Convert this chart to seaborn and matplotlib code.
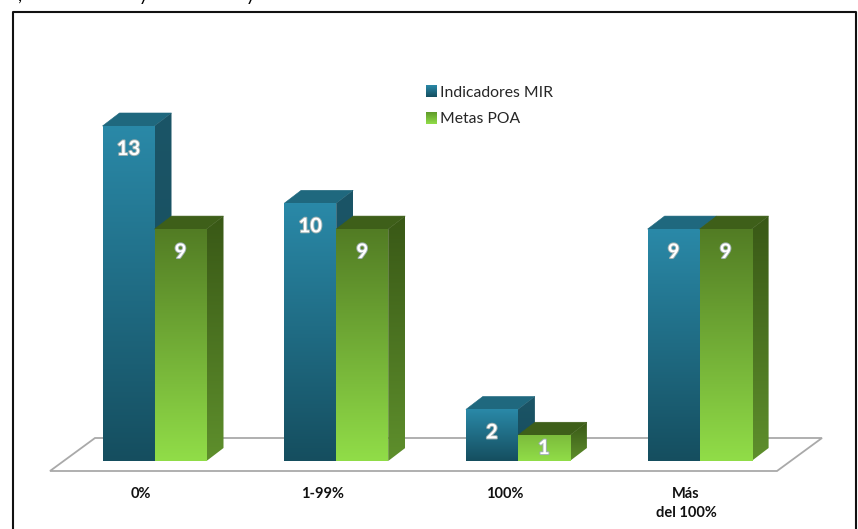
import numpy as np
import pandas as pd
import seaborn as sns
import matplotlib.pyplot as plt
import matplotlib.patheffects as pe
from matplotlib.colors import LinearSegmentedColormap, to_rgb
from matplotlib.lines import Line2D
from matplotlib.patches import Polygon
from matplotlib.transforms import ScaledTranslation

# Chart values
categories = ['0%', '1-99%', '100%', 'Más\ndel 100%']
indicadores_mir = [13, 10, 2, 9]
metas_poa = [9, 9, 1, 9]
series_names = ['Indicadores MIR', 'Metas POA']

# Colours (front top, front bottom, side top, side bottom, top face)
mir_colors = ['#2a89a8', '#154e5f', '#1b5567', '#174c5c', '#1f687e']
poa_colors = ['#527c24', '#91dd48', '#395816', '#5e8f2c', '#3e5f19']
poa_short_top = '#7cbc3c'

W, H = 858, 529
BASE_Y = 461          # pixel row of value 0
PX_PER_UNIT = 25.77   # pixels for one unit of value
BAND = 181.7          # pixels for one category
DEPTH_X, DEPTH_Y = 17, 13

sns.set_theme(style='white')
plt.rcParams['font.family'] = ['Lato', 'DejaVu Sans']

fig = plt.figure(figsize=(W / 100, H / 100), dpi=100)
left = 154.5 - BAND / 2
top = 14
ax = fig.add_axes([left / W, 1 - BASE_Y / H, 4 * BAND / W, (BASE_Y - top) / H])

df = pd.DataFrame({
    'categoria': categories * 2,
    'serie': [series_names[0]] * 4 + [series_names[1]] * 4,
    'valor': indicadores_mir + metas_poa,
})
sns.barplot(data=df, x='categoria', y='valor', hue='serie', width=104 / BAND, gap=0,
            palette=[mir_colors[0], poa_colors[1]], saturation=1, ax=ax, zorder=5)

ax.set_xlim(-0.5, 3.5)
ax.set_ylim(0, (BASE_Y - top) / PX_PER_UNIT)
ax.set_xlabel('')
ax.set_ylabel('')
ax.set_yticks([])
sns.despine(ax=ax, left=True, bottom=True)
ax.patch.set_alpha(0)

dx = DEPTH_X / BAND
dy = DEPTH_Y / PX_PER_UNIT


def to_data(px, py):
    return (px - left) / BAND - 0.5, (BASE_Y - py) / PX_PER_UNIT


def gradient(c1, c2):
    return LinearSegmentedColormap.from_list('g', [to_rgb(c1), to_rgb(c2)])


# floor of the chart
floor = [to_data(50, 471), to_data(777, 471), to_data(822, 438), to_data(95, 438)]
ax.add_patch(Polygon(floor, closed=True, facecolor='white', edgecolor='#a9a9a9',
                     linewidth=1.3, zorder=1, clip_on=False))

ramp = np.linspace(0, 1, 256).reshape(-1, 1)
order = 2
for container, cols, name in zip(ax.containers, [mir_colors, poa_colors], series_names):
    for bar in container:
        x0 = bar.get_x()
        x1 = x0 + bar.get_width()
        h = bar.get_height()
        front_top = cols[0]
        side_top = cols[2]
        if cols is poa_colors and h < 2:
            front_top = poa_short_top
        # top face
        ax.add_patch(Polygon([(x0, h), (x1, h), (x1 + dx, h + dy), (x0 + dx, h + dy)],
                             closed=True, facecolor=cols[4], edgecolor=cols[4],
                             linewidth=0.4, zorder=order, clip_on=False))
        # side face with a gradient
        side = Polygon([(x1, 0), (x1 + dx, dy), (x1 + dx, h + dy), (x1, h)], closed=True,
                       facecolor='none', edgecolor='none', zorder=order,
                       transform=ax.transData)
        ax.add_patch(side)
        im = ax.imshow(ramp, cmap=gradient(side_top, cols[3]), aspect='auto', zorder=order,
                       extent=(x1, x1 + dx, 0, h + dy), clip_on=True)
        im.set_clip_path(side)
        # front face with a gradient
        bar.set_zorder(order + 0.5)
        bar.set_edgecolor('none')
        front = ax.imshow(ramp, cmap=gradient(front_top, cols[1]), aspect='auto',
                          zorder=order + 0.6, extent=(x0, x1, 0, h))
        front.set_clip_path(bar)
        order += 1

        # value label
        off = min(23, h * PX_PER_UNIT / 2)
        ax.annotate(f'{h:.0f}', (x0 + (x1 - x0) / 2, h), xytext=(0, -off * 0.72),
                    textcoords='offset points', ha='center', va='center', color='white',
                    fontsize=14.5, fontweight='bold', zorder=60,
                    path_effects=[pe.withStroke(linewidth=1.4, foreground='#9fb0b0')])

ax.set_xlim(-0.5, 3.5)
ax.set_ylim(0, (BASE_Y - top) / PX_PER_UNIT)

# category labels sit a little left of the bars
ax.tick_params(axis='x', length=0, pad=19, labelsize=10.5)
shift = ScaledTranslation(-13.5 / 72 * 0.72, 0, fig.dpi_scale_trans)
for lab in ax.get_xticklabels():
    lab.set_fontweight('bold')
    lab.set_color('#111111')
    lab.set_linespacing(1.4)
    lab.set_transform(lab.get_transform() + shift)

# legend
leg = ax.legend(loc='upper left', bbox_to_anchor=(426 / W, 1 - 86 / H),
                bbox_transform=fig.transFigure, frameon=False, fontsize=11.3,
                handlelength=0.66, handleheight=0.72, handletextpad=0.22, labelspacing=0.78,
                borderpad=0, borderaxespad=0)
for txt in leg.get_texts():
    txt.set_color('#262626')
fig.canvas.draw()
inv = ax.transData.inverted()
for handle, cols in zip(leg.legend_handles, [mir_colors, poa_colors]):
    box = handle.get_window_extent().transformed(inv)
    ax.imshow(ramp, cmap=gradient(cols[0] if cols is mir_colors else '#5f9a2a', cols[1]),
              aspect='auto', zorder=70, extent=(box.x0, box.x1, box.y0, box.y1))
ax.set_xlim(-0.5, 3.5)
ax.set_ylim(0, (BASE_Y - top) / PX_PER_UNIT)

# frame around the chart, cut by the picture at the bottom
frame_x = [12.5 / W, 12.5 / W, 855.5 / W, 855.5 / W]
frame_y = [0, 1 - 12 / H, 1 - 12 / H, 0]
fig.add_artist(Line2D(frame_x, frame_y, color='#111111', linewidth=1.5))

# descenders of the text line above the chart
for px, s in [(18, ','), (139, 'y'), (246, 'y')]:
    fig.text(px / W, 1 - 1 / H, s, fontsize=13, color='black', va='baseline')

fig.savefig('out.png', dpi=100)
